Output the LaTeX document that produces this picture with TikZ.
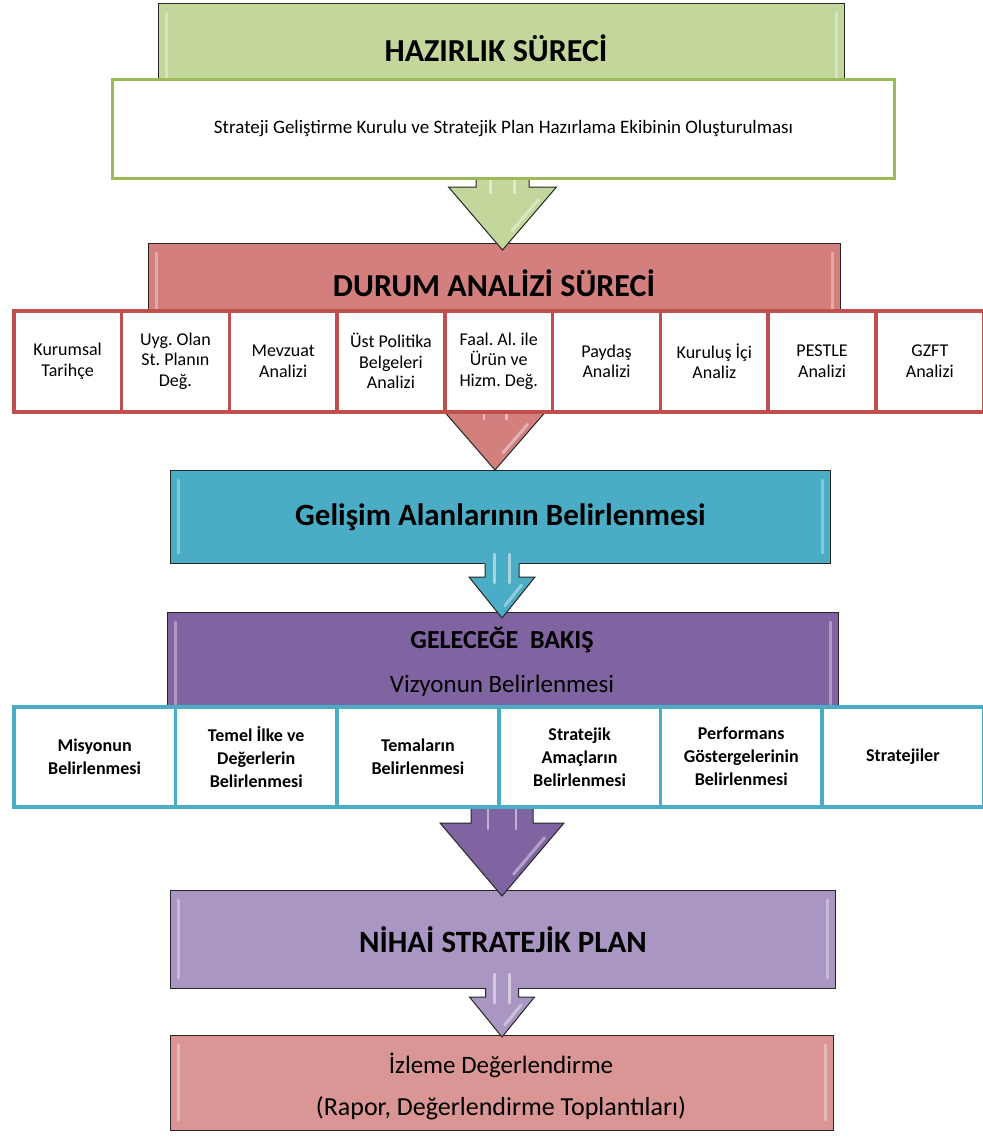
\documentclass[tikz,border=0pt]{standalone}
\usepackage{fontspec}
\setmainfont{Carlito}
\definecolor{cGreen}{HTML}{C3D69B}
\definecolor{cGreenLine}{HTML}{9BBB59}
\definecolor{cRed}{HTML}{D27F7D}
\definecolor{cRedLine}{HTML}{C0504D}
\definecolor{cCyan}{HTML}{4BACC6}
\definecolor{cPurple}{HTML}{8064A2}
\definecolor{cLilac}{HTML}{A996C2}
\definecolor{cPink}{HTML}{DA9694}
\newcommand\blockarr[8]{%
  \fill[#1] (#2-#5,#3) -- (#2-#5,#7) -- (#2-#6,#7) -- (#2,#8) -- (#2+#6,#7) -- (#2+#5,#7) -- (#2+#5,#3) -- cycle;
  \draw[white,opacity=.5,line width=2.5pt,line cap=round] (#2-#5*0.45,#3+4) -- (#2-#5*0.45,#7+6);
  \draw[white,opacity=.5,line width=2.5pt,line cap=round] (#2+#5*0.45,#3+4) -- (#2+#5*0.45,#7+6);
  \draw[white,opacity=.4,line width=3pt,line cap=round] (#2+#6*0.8-7,#7*0.8+#8*0.2) -- (#2+#6*0.3-7,#7*0.3+#8*0.7);
  \draw[arrline] (#2-#5,#4) -- (#2-#5,#7) -- (#2-#6,#7) -- (#2,#8) -- (#2+#6,#7) -- (#2+#5,#7) -- (#2+#5,#4);
}
\newcommand\bevel[4]{%
  \draw[white,opacity=.35,line width=3pt,line cap=round] (#1+8,#3+10) -- (#1+8,#4-10);
  \draw[white,opacity=.35,line width=3pt,line cap=round] (#2-8,#3+10) -- (#2-8,#4-10);
}
\begin{document}
\frenchspacing
\begin{tikzpicture}[x=1pt,y=-1pt,
  bigbox/.style={draw=black!85,line width=0.9pt,inner sep=0pt,anchor=north west},
  arrline/.style={draw=black!85,line width=1pt,line join=miter},
  cellA/.style={draw=cRedLine,line width=3.5pt,fill=white,inner sep=0pt,anchor=north west,
    minimum width=107.78pt,minimum height=101pt,align=flush center,text width=100pt,
    font=\frenchspacing\fontsize{18}{20.5}\selectfont},
  cellB/.style={draw=cCyan,line width=3.5pt,fill=white,inner sep=0pt,anchor=north west,
    minimum width=161.67pt,minimum height=100pt,align=flush center,text width=150pt,
    font=\frenchspacing\bfseries\fontsize{18}{23}\selectfont},
  title/.style={font=\bfseries\fontsize{32}{38}\selectfont,inner sep=0pt},
]
\useasboundingbox (0,0) rectangle (982,1137);
\fill[white] (0,0) rectangle (982,1137);

% HAZIRLIK
\node[bigbox,fill=cGreen,minimum width=686pt,minimum height=90pt] (haz) at (158,3) {};
\bevel{158}{844}{3}{93}
\node[title] (hazt) at (496,48) {HAZIRLIK SÜRECİ};

% DURUM box
\node[bigbox,fill=cRed,minimum width=692pt,minimum height=80pt] (dur) at (148,243) {};
\bevel{148}{840}{243}{323}
\node[title] (durt) at (494,283) {DURUM ANALİZİ SÜRECİ};

% green arrow
\blockarr{cGreen}{502.5}{170}{177}{26.5}{54}{187}{250}

% white box
\node[draw=cGreenLine,line width=3pt,fill=white,anchor=north west,minimum width=782pt,minimum height=99pt,inner sep=0pt,
  font=\fontsize{19}{22}\selectfont] (ekip) at (111,78) {Strateji Geliştirme Kurulu ve Stratejik Plan Hazırlama Ekibinin Oluşturulması};

% cyan box
\node[bigbox,fill=cCyan,minimum width=660pt,minimum height=93pt,
  font=\bfseries\fontsize{31}{36}\selectfont] (gel) at (170,470) {Gelişim Alanlarının Belirlenmesi};
\bevel{170}{830}{470}{563}

% red arrow
\blockarr{cRed}{495}{405}{410}{25}{49.5}{413}{470}

% row 1
\node[cellA] (a1) at (12,309) {Kurumsal\\Tarihçe};
\node[cellA] (a2) at (119.78,309) {Uyg. Olan\\St. Planın\\Değ.};
\node[cellA] (a3) at (227.56,309) {Mevzuat\\Analizi};
\node[cellA] (a4) at (335.33,309) {Üst Politika\\Belgeleri\\Analizi};
\node[cellA] (a5) at (443.11,309) {Faal. Al. ile\\Ürün ve\\Hizm. Değ.};
\node[cellA] (a6) at (550.89,309) {Paydaş\\Analizi};
\node[cellA] (a7) at (658.67,309) {Kuruluş İçi\\Analiz};
\node[cellA] (a8) at (766.44,309) {PESTLE\\Analizi};
\node[cellA] (a9) at (874.22,309) {GZFT\\Analizi};

% purple box
\node[bigbox,fill=cPurple,minimum width=671pt,minimum height=102pt] (vis) at (167,612) {};
\bevel{167}{838}{612}{714}
\node[font=\bfseries\fontsize{26}{31}\selectfont,inner sep=0pt] (vist) at (502,640) {GELECEĞE\ \ BAKIŞ};
\node[font=\fontsize{25}{30}\selectfont,inner sep=0pt] (vis2) at (502,686) {Vizyonun Belirlenmesi};

% cyan arrow
\blockarr{cCyan}{502}{550}{564}{17}{33}{577}{618}

% Nihai box
\node[bigbox,fill=cLilac,minimum width=665pt,minimum height=98pt,
  font=\bfseries\fontsize{31}{36}\selectfont] (nih) at (170,890) {NİHAİ STRATEJİK PLAN};
\bevel{170}{835}{890}{988}

% purple arrow
\blockarr{cPurple}{502}{800}{805}{31}{62}{823}{896}

% row 2
\node[cellB] (b1) at (12,705) {Misyonun\\Belirlenmesi};
\node[cellB] (b2) at (173.67,705) {Temel İlke ve\\Değerlerin\\Belirlenmesi};
\node[cellB] (b3) at (335.33,705) {Temaların\\Belirlenmesi};
\node[cellB] (b4) at (497,705) {Stratejik\\Amaçların\\Belirlenmesi};
\node[cellB] (b5) at (658.67,705) {Performans\\Göstergelerinin\\Belirlenmesi};
\node[cellB] (b6) at (820.33,705) {Stratejiler};

% İzleme box
\node[bigbox,fill=cPink,minimum width=663pt,minimum height=95pt] (izl) at (170,1035) {};
\bevel{170}{833}{1035}{1130}
\node[font=\fontsize{25}{30}\selectfont,inner sep=0pt] (izt) at (501,1065) {İzleme Değerlendirme};
\node[font=\fontsize{26}{30}\selectfont,inner sep=0pt] (izt2) at (501,1108) {(Rapor, Değerlendirme Toplantıları)};

% small arrow
\blockarr{cLilac}{502}{970}{988}{16.5}{32.5}{997}{1037}
\end{tikzpicture}
\end{document}
